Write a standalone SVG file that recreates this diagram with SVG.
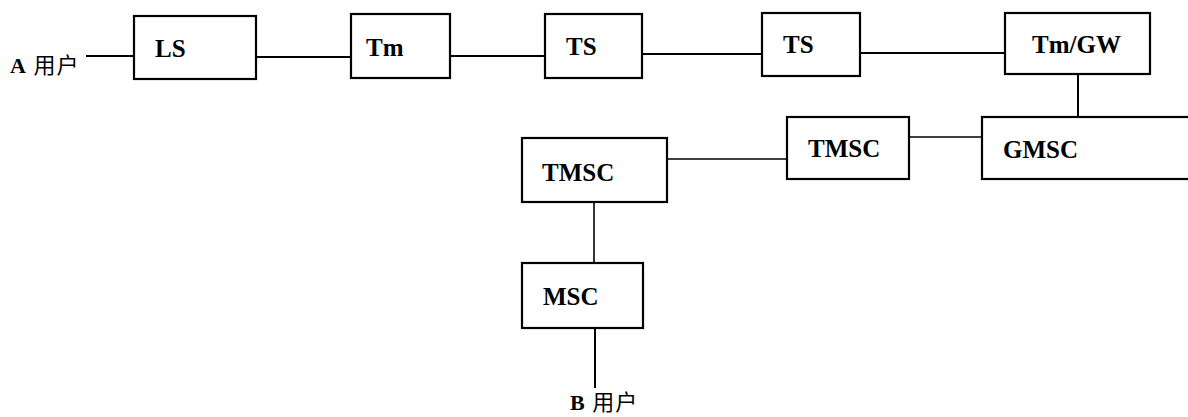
<svg xmlns="http://www.w3.org/2000/svg" width="1188" height="417" viewBox="0 0 1188 417">
<style>
.box{fill:#fff;stroke:#000;stroke-width:2.2}
.ln{stroke:#000;stroke-width:2;fill:none}
.t{font-family:"Liberation Serif","Times New Roman",serif;font-size:25px;font-weight:bold;fill:#000}
.c{font-family:"Liberation Serif","Noto Sans CJK SC",serif;font-size:22px;fill:#000;letter-spacing:1px}
.b{font-weight:bold}
</style>
<rect width="1188" height="417" fill="#fff"/>
<g id="connectors">
<line class="ln" x1="86" y1="56" x2="134" y2="56"/>
<line class="ln" x1="256" y1="57" x2="351" y2="57"/>
<line class="ln" x1="450" y1="56" x2="545" y2="56"/>
<line class="ln" x1="642" y1="54" x2="762" y2="54"/>
<line class="ln" x1="860" y1="53" x2="1005" y2="53"/>
<line class="ln" x1="1078" y1="74" x2="1078" y2="117"/>
<line class="ln" x1="909" y1="137" x2="982" y2="137" style="stroke-width:1.6"/>
<line class="ln" x1="667" y1="159" x2="787" y2="159" style="stroke-width:1.6"/>
<line class="ln" x1="594" y1="202" x2="594" y2="263" style="stroke-width:1.6"/>
<line class="ln" x1="595" y1="328" x2="595" y2="388"/>
</g>
<g id="userA"><text class="c" x="10" y="73"><tspan class="b">A</tspan> 用户</text></g>
<g id="LS"><rect class="box" x="134" y="16" width="122" height="63"/><text class="t" x="155" y="57">LS</text></g>
<g id="Tm"><rect class="box" x="351" y="14" width="99" height="64"/><text class="t" x="366" y="56">Tm</text></g>
<g id="TS1"><rect class="box" x="545" y="14" width="97" height="64"/><text class="t" x="566" y="55">TS</text></g>
<g id="TS2"><rect class="box" x="762" y="13" width="98" height="63"/><text class="t" x="783" y="53">TS</text></g>
<g id="TmGW"><rect class="box" x="1005" y="13" width="145" height="61"/><text class="t" x="1032" y="53">Tm/GW</text></g>
<g id="GMSC"><rect class="box" x="982" y="117" width="210" height="62"/><text class="t" x="1003" y="158">GMSC</text></g>
<g id="TMSC1"><rect class="box" x="787" y="117" width="122" height="62"/><text class="t" x="808" y="157">TMSC</text></g>
<g id="TMSC2"><rect class="box" x="522" y="138" width="145" height="64"/><text class="t" x="542" y="181">TMSC</text></g>
<g id="MSC"><rect class="box" x="522" y="263" width="121" height="65"/><text class="t" x="543" y="305">MSC</text></g>
<g id="userB"><text class="c" x="570" y="410"><tspan class="b">B</tspan> 用户</text></g>
</svg>
